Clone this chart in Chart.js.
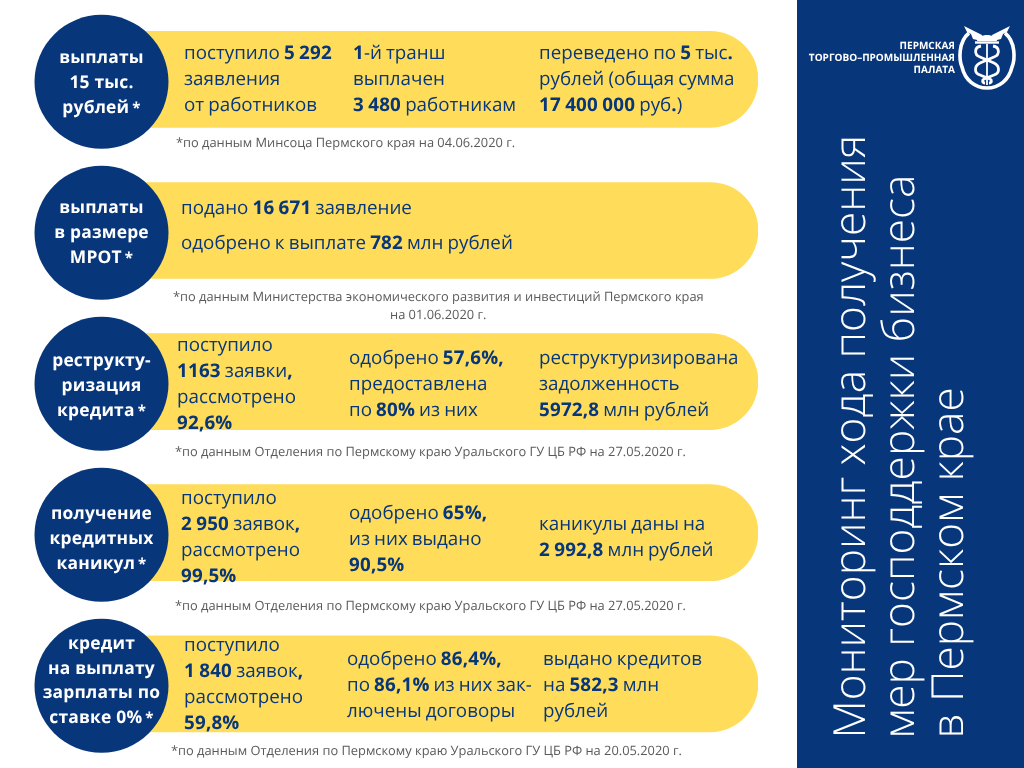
<!DOCTYPE html>
<html lang="ru"><head><meta charset="utf-8">
<style>
html,body{margin:0;padding:0;background:#fff;width:1024px;height:768px;overflow:hidden}
body{position:relative;font-family:"Open Sans",sans-serif;text-rendering:geometricPrecision}
canvas{position:absolute;left:0;top:0}
#panel{position:absolute;left:797px;top:0;width:227px;height:768px;background:#07367a}
.t{position:absolute;white-space:pre;line-height:30px;height:30px;font-size:18.8px;color:#07367a;word-spacing:-.8px}
.t b{font-weight:700;letter-spacing:.2px}
.c{position:absolute;white-space:pre;line-height:26px;height:26px;width:140px;text-align:center;font-size:17.4px;font-weight:700;color:#fff;letter-spacing:.2px}
.c span{font-size:15px;margin-left:3px}
.f{position:absolute;white-space:pre;line-height:18px;height:18px;font-size:12.85px;color:#5a5a5a}
.v{position:absolute;white-space:pre;left:0;top:0;font-size:44.2px;font-weight:300;color:#fff;line-height:50px;transform-origin:0 0}
.l{position:absolute;white-space:pre;text-align:right;right:69px;font-size:10px;font-weight:700;color:#fff;line-height:13px}
svg{position:absolute;left:955px;top:20px}
</style></head><body>
<div id="panel"></div>
<canvas id="chart" width="1024" height="768"></canvas>
<svg width="64" height="76" viewBox="0 0 64 76" fill="none" stroke="#fff">
<path d="M14 13C3 22 4 40 7 47C10 60 20 68 32 68C44 68 54 60 57 47C60 40 61 22 50 13" stroke-width="3.6"/>
<path d="M9 6L27 15L26 21L18 19L16 14L12 12Z M55 6L37 15L38 21L46 19L48 14L52 12Z" fill="#fff" stroke="none"/>
<path d="M22 21C23 13 41 13 42 21Z" fill="#fff" stroke="none"/>
<path d="M20 22.5H44" stroke-width="2.4"/>
<path d="M32 24V65" stroke-width="1.8"/>
<path d="M26 26C19 27 19 35 25 37L39 43C45 46 45 53 39 55L29 59C27 60 27 63 30 63" stroke-width="2.8"/>
<path d="M38 26C45 27 45 35 39 37L25 43C19 46 19 53 25 55L35 59C37 60 37 63 34 63" stroke-width="2.8"/>
</svg>
<script src="https://cdn.jsdelivr.net/npm/chart.js@4"></script>
<script>
const categories = ["выплаты 15 тыс. рублей","выплаты в размере МРОТ","реструктуризация кредита","получение кредитных каникул","кредит на выплату зарплаты по ставке 0%"];
const barPresence = [1,1,1,1,1];
const circleRows = [0,1,2,3,4];
const circleLabels = [
 ["выплаты","15 тыс.","рублей<small>*</small>"],
 ["выплаты","в размере","МРОТ<small>*</small>"],
 ["реструкту-","ризация","кредита<small>*</small>"],
 ["получение","кредитных","каникул<small>*</small>"],
 ["кредит","на выплату","зарплаты по","ставке 0%<small>*</small>"]
];
const rowTexts = [
 [["поступило <b>5 292</b>","заявления","от работников"],["<b>1</b>-й транш","выплачен","<b>3 480</b> работникам"],["переведено по <b>5</b> тыс<b>.</b>","рублей (общая сумма","<b>17 400 000</b> руб<b>.</b>)"]],
 [["подано <b>16 671</b> заявление","одобрено к выплате <b>782</b> млн рублей"]],
 [["поступило","<b>1163</b> заявки<b>,</b>","рассмотрено","<b>92,6%</b>"],["одобрено <b>57,6%,</b>","предоставлена","по <b>80%</b> из них"],["реструктуризирована","задолженность","<b>5972,8</b> млн рублей"]],
 [["поступило","<b>2 950</b> заявок<b>,</b>","рассмотрено","<b>99,5%</b>"],["одобрено <b>65%,</b>","из них выдано","<b>90,5%</b>"],["каникулы даны на","<b>2 992,8</b> млн рублей"]],
 [["поступило","<b>1 840</b> заявок<b>,</b>","рассмотрено","<b>59,8%</b>"],["одобрено <b>86,4%,</b>","по <b>86,1%</b> из них зак-","лючены договоры"],["выдано кредитов","на <b>582,3</b> млн","рублей"]]
];
const footnotes = [
 ["*по данным Минсоца Пермского края на 04.06.2020 г."],
 ["*по данным Министерства экономического развития и инвестиций Пермского края","на 01.06.2020 г."],
 ["*по данным Отделения по Пермскому краю Уральского ГУ ЦБ РФ на 27.05.2020 г."],
 ["*по данным Отделения по Пермскому краю Уральского ГУ ЦБ РФ на 27.05.2020 г."],
 ["*по данным Отделения по Пермскому краю Уральского ГУ ЦБ РФ на 20.05.2020 г."]
];
const panelTitle = ["Мониторинг хода получения","мер господдержки бизнеса","в Пермском крае"];
const orgName = ["ПЕРМСКАЯ","ТОРГОВО–ПРОМЫШЛЕННАЯ","ПАЛАТА"];

new Chart(document.getElementById('chart'),{
 type:'bar',
 data:{labels:categories,datasets:[
  {type:'scatter',indexAxis:'x',xAxisID:'x',yAxisID:'yc',order:0,clip:false,
   data:circleRows.map(r=>({x:0,y:r})),pointRadius:67,pointHoverRadius:67,pointBackgroundColor:'#07367a',pointBorderWidth:0},
  {type:'bar',indexAxis:'y',xAxisID:'x',yAxisID:'y',order:1,data:barPresence,backgroundColor:'#ffdd5a',barThickness:96,
   borderSkipped:false,borderRadius:{topLeft:0,bottomLeft:0,topRight:48,bottomRight:48}}
 ]},
 options:{responsive:false,animation:false,devicePixelRatio:1,
  layout:{autoPadding:false,padding:{left:101.5,right:266,top:3.85,bottom:8.65}},
  plugins:{legend:{display:false},tooltip:{enabled:false}},
  scales:{
   x:{type:'linear',display:false,min:0,max:1,offset:false},
   y:{type:'category',display:false,labels:categories,offset:true},
   yc:{type:'linear',axis:'y',display:false,reverse:true,min:-0.5162,max:4.4871,offset:false}
  }}
});

function add(cls,x,y,html){const d=document.createElement('div');d.className=cls;d.style.left=x+'px';d.style.top=y+'px';d.innerHTML=html;document.body.appendChild(d);return d;}
// text layout: column x and first-line centre for every text block
const textLayout=[
 [[184,52],[353,52],[539,52]],
 [[181,207,35]],
 [[177,344],[349,357],[539,357]],
 [[181,497],[349,512],[539,523]],
 [[184,644],[347,658],[543,658]]
];
rowTexts.forEach((blocks,r)=>blocks.forEach((lines,b)=>{
 const [x,y,step]=textLayout[r][b];
 lines.forEach((ln,i)=>add('t',x,y+i*(step||26)-15,ln));
}));
const circleFirst=[57,207,360,513,643], circleStep=[25,25,25,25,24.5];
circleLabels.forEach((lines,r)=>lines.forEach((ln,i)=>{
 add('c',31.5,circleFirst[r]+i*circleStep[r]-13,ln.replace('<small>*</small>','<span>*</span>'));
}));
const footLayout=[[176,142],[173,296],[175,451],[175,605],[171,750]];
footnotes.forEach((lines,r)=>lines.forEach((ln,i)=>{
 if(i===0) add('f',footLayout[r][0],footLayout[r][1]-9,ln);
 else add('f',390,footLayout[r][1]+18-9,ln);
}));
const titleX=[823,872.2,921.2];
panelTitle.forEach((ln,i)=>{const d=add('v',0,0,ln);d.style.transform=`translate(${titleX[i]}px,738.5px) rotate(-90deg)`;});
orgName.forEach((ln,i)=>{const d=add('l',0,38.5+i*12,ln);d.style.left='auto';});
</script>
</body></html>
